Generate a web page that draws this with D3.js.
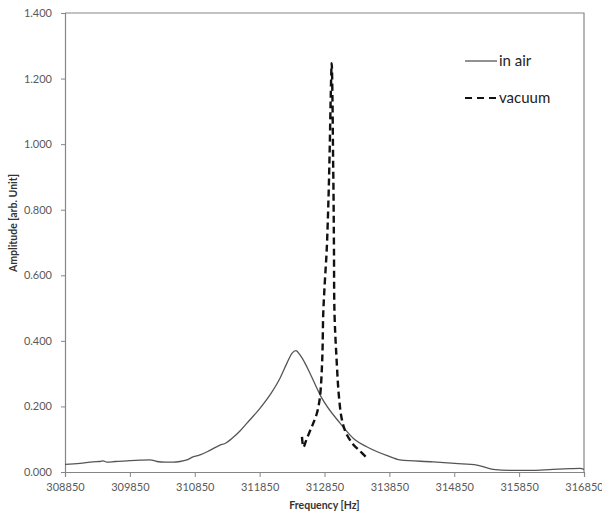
<!DOCTYPE html>
<html>
<head>
<meta charset="utf-8">
<script src="https://cdn.jsdelivr.net/npm/d3@7"></script>
<style>
body { margin: 0; background: white; }
svg { font-family: Lato, "Open Sans", sans-serif; }
.tick text { fill: #595959; font-size: 11px; }
.axis path, .axis line { stroke: #868686; }
</style>
</head>
<body>
<div id="chart"></div>
<script>
// in air (solid)
var airFreq = [308850, 309081, 309282, 309389, 309436, 309497, 309621, 309806, 310006, 310160,
    310268, 310391, 310515, 310622, 310730, 310823, 310931, 311085, 311239, 311316,
    311439, 311547, 311655, 311855, 312010, 312164, 312271, 312348, 312410, 312472,
    312549, 312626, 312796, 313089, 313320, 313500, 313828, 314013, 314522, 314861,
    315200, 315447, 315709, 316017, 316371, 316634, 316788, 316850];
var airAmp = [0.0235, 0.026, 0.031, 0.032, 0.034, 0.030, 0.032, 0.034, 0.036, 0.037,
    0.032, 0.030, 0.030, 0.032, 0.037, 0.046, 0.052, 0.066, 0.082, 0.087,
    0.105, 0.125, 0.149, 0.194, 0.235, 0.286, 0.332, 0.362, 0.370, 0.357,
    0.332, 0.301, 0.230, 0.149, 0.098, 0.077, 0.049, 0.037, 0.031, 0.026,
    0.021, 0.008, 0.005, 0.005, 0.008, 0.010, 0.011, 0.008];

// vacuum (dashed)
var vacFreq = [312503, 312526, 312565, 312626, 312677, 312734, 312780, 312816, 312831, 312857,
    312884, 312911, 312930, 312945, 312961, 312973, 312981, 312990, 312996, 313004,
    313035, 313073, 313119, 313181, 313289, 313397, 313489];
var vacAmp = [0.107, 0.076, 0.095, 0.125, 0.149, 0.180, 0.229, 0.348, 0.485, 0.586,
    0.677, 0.830, 0.982, 1.135, 1.247, 1.135, 0.982, 0.830, 0.677, 0.485,
    0.348, 0.229, 0.159, 0.119, 0.085, 0.064, 0.046];

var xTicks = [308850, 309850, 310850, 311850, 312850, 313850, 314850, 315850, 316850];
var yTicks = [0, 0.2, 0.4, 0.6, 0.8, 1.0, 1.2, 1.4];

var width = 602, height = 513;
var plotL = 65, plotR = 584, plotT = 13, plotB = 472;

var svg = d3.select("#chart").append("svg")
    .attr("width", width)
    .attr("height", height);

var x = d3.scaleLinear().domain([308850, 316850]).range([plotL, plotR]);
var y = d3.scaleLinear().domain([0, 1.4]).range([plotB, plotT]);

// frame (top + right)
svg.append("path")
    .attr("d", `M${plotL},${plotT}H${plotR}V${plotB}`)
    .attr("fill", "none")
    .attr("stroke", "#868686")
    .attr("stroke-width", 1.2);

svg.append("g")
    .attr("class", "axis")
    .attr("transform", `translate(0,${plotB})`)
    .call(d3.axisBottom(x).tickValues(xTicks).tickSize(5).tickPadding(6).tickFormat(d3.format("d")))
    .call(function(g) { g.select(".domain").attr("stroke-width", 1.2); });

svg.append("g")
    .attr("class", "axis")
    .attr("transform", `translate(${plotL},0)`)
    .call(d3.axisLeft(y).tickValues(yTicks).tickSize(4).tickPadding(9).tickFormat(d3.format(".3f")))
    .call(function(g) { g.select(".domain").attr("stroke-width", 1.2); });

svg.selectAll(".tick text").attr("font-family", "Lato, 'Open Sans', sans-serif");

var line = d3.line()
    .x(function(d) { return x(d[0]); })
    .y(function(d) { return y(d[1]); })
    .curve(d3.curveMonotoneX);

var lineV = d3.line()
    .x(function(d) { return x(d[0]); })
    .y(function(d) { return y(d[1]); })
    .curve(d3.curveCatmullRom);

svg.append("path")
    .datum(d3.zip(airFreq, airAmp))
    .attr("d", line)
    .attr("fill", "none")
    .attr("stroke", "#555")
    .attr("stroke-width", 1.3);

svg.append("path")
    .datum(d3.zip(vacFreq, vacAmp))
    .attr("d", lineV)
    .attr("fill", "none")
    .attr("stroke", "#111")
    .attr("stroke-width", 2.4)
    .attr("stroke-dasharray", "7,4");

// legend
var legend = [
    { name: "in air", dash: null, w: 1.3, c: "#555" },
    { name: "vacuum", dash: "7,5", w: 2.2, c: "#111" }
];
legend.forEach(function(d, i) {
    var ly = 61 + i * 37;
    svg.append("line")
        .attr("x1", 465).attr("x2", 497)
        .attr("y1", ly).attr("y2", ly)
        .attr("stroke", d.c)
        .attr("stroke-width", d.w)
        .attr("stroke-dasharray", d.dash);
    svg.append("text")
        .attr("x", 499).attr("y", ly + 5)
        .attr("font-size", 15)
        .attr("fill", "#222")
        .text(d.name);
});

// axis titles
svg.append("text")
    .attr("x", (plotL + plotR) / 2)
    .attr("y", 509)
    .attr("text-anchor", "middle")
    .attr("font-size", 10.5)
    .attr("font-weight", "bold")
    .attr("fill", "#333")
    .text("Frequency [Hz]");

svg.append("text")
    .attr("transform", "translate(17,223) rotate(-90)")
    .attr("text-anchor", "middle")
    .attr("font-size", 10.5)
    .attr("font-weight", "bold")
    .attr("fill", "#333")
    .text("Amplitude [arb. Unit]");
</script>
</body>
</html>
